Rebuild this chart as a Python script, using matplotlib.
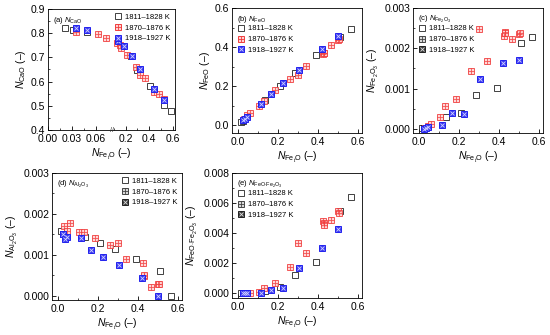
import matplotlib
matplotlib.use("Agg")
import matplotlib.pyplot as plt
import numpy as np
from matplotlib.lines import Line2D
from matplotlib.ticker import MultipleLocator, FixedLocator, FormatStrFormatter

# ---- data -------------------------------------------------------------
labels = ["1811–1828 K", "1870–1876 K", "1918–1927 K"]

# panel (a) has its own x positions (broken axis)
a_x_black = [0.021, 0.031, 0.049, 0.166, 0.243, 0.299, 0.407, 0.529, 0.583]
a_y_black = [0.820, 0.813, 0.804, 0.747, 0.704, 0.649, 0.580, 0.503, 0.480]
a_x_red = [0.035, 0.063, 0.073, 0.130, 0.155, 0.158, 0.209, 0.285, 0.322,
           0.365, 0.442, 0.487, 0.527]
a_y_red = [0.804, 0.796, 0.779, 0.758, 0.750, 0.737, 0.708, 0.660, 0.629,
           0.615, 0.556, 0.548, 0.530]
a_x_blue = [0.035, 0.049, 0.138, 0.189, 0.252, 0.322, 0.444, 0.527]
a_y_blue = [0.822, 0.815, 0.767, 0.747, 0.704, 0.653, 0.571, 0.523]

# N_FetO for panels (b)-(e)
x_black = [0.015, 0.025, 0.135, 0.21, 0.285, 0.39, 0.51, 0.565]
x_red = [0.03, 0.045, 0.06, 0.105, 0.13, 0.185, 0.26, 0.30, 0.34,
         0.425, 0.43, 0.43, 0.465, 0.50, 0.505]
x_blue = [0.025, 0.035, 0.045, 0.115, 0.165, 0.225, 0.305, 0.42, 0.50]

feo_black = [0.015, 0.022, 0.13, 0.20, 0.265, 0.36, 0.45, 0.49]
feo_red = [0.03, 0.05, 0.06, 0.10, 0.125, 0.178, 0.237, 0.255, 0.305,
           0.365, 0.37, 0.372, 0.41, 0.435, 0.44]
feo_blue = [0.025, 0.033, 0.04, 0.11, 0.158, 0.218, 0.283, 0.388, 0.455]

fe2o3_black = [0.00002, 0.00003, 0.0003, 0.0004, 0.00084, 0.00102, 0.00212, 0.00229]
fe2o3_red = [0.00003, 0.00008, 0.00013, 0.0003, 0.00058, 0.00075, 0.00143,
             0.00248, 0.00168, 0.00231, 0.0024, 0.00238, 0.00224, 0.00236, 0.00237]
fe2o3_blue = [0.0, 0.00003, 0.00005, 0.0001, 0.0004, 0.00038, 0.00124, 0.00164, 0.0017]

al2o3_black = [0.00159, 0.0015, 0.00145, 0.00129, 0.00115, 0.0009, 0.00061, 0.0]
al2o3_red = [0.0017, 0.00159, 0.00177, 0.00155, 0.00157, 0.00142, 0.00124,
             0.0013, 0.00089, 0.00081, 0.00048, 0.0005, 0.00021, 0.00029, 0.0003]
al2o3_blue = [0.0015, 0.0014, 0.00143, 0.00142, 0.00113, 0.00095, 0.00076, 0.00043, 0.0]

spinel_black = [0.0, 0.0, 0.00018, 0.00045, 0.00123, 0.00208, 0.00545, 0.0064]
spinel_red = [0.0, 0.0, 0.00002, 0.00013, 0.00036, 0.00067, 0.00179, 0.00337,
              0.00268, 0.0048, 0.00465, 0.00454, 0.00487, 0.0055, 0.00536]
spinel_blue = [0.0, 0.0, 0.0, 0.0, 0.00025, 0.00036, 0.00168, 0.00302, 0.00427]

# ---- style ------------------------------------------------------------
plt.rcParams["font.family"] = ["Liberation Sans", "DejaVu Sans"]
plt.rcParams["mathtext.fontset"] = "custom"
plt.rcParams["mathtext.rm"] = "Liberation Sans"
plt.rcParams["mathtext.it"] = "Liberation Sans:italic"
plt.rcParams["font.size"] = 7
plt.rcParams["axes.linewidth"] = 0.6

color_black = "#222222"
color_red = "#f03c3c"
color_blue = "#2222ee"

# each marker is a square with an inner symbol drawn on top
black_box = dict(marker="s", ms=4.0, mfc="none", mec=color_black, mew=0.6, ls="none")
red_box = dict(marker="s", ms=4.2, mfc="#ffd2d2", mec=color_red, mew=0.7, ls="none")
red_in = dict(marker="+", ms=4.2, mec=color_red, mew=0.6, ls="none")
blue_box = dict(marker="s", ms=4.2, mfc="#3a3af0", mec=color_blue, mew=0.7, ls="none")
blue_in = dict(marker="x", ms=3.0, mec="#d0d0ff", mew=0.6, ls="none")

gray_red_box = dict(red_box, mfc="#d8d8d8", mec="#444444")
gray_red_in = dict(red_in, mec="#444444")
gray_blue_box = dict(blue_box, mfc="#3a3a3a", mec="#222222")
gray_blue_in = dict(blue_in, mec="#dddddd")

xlabel = r"$N_{\mathrm{Fe}_t\mathrm{O}}$ (–)"

fig = plt.figure(figsize=(5.5, 3.35), dpi=100)


def add_axes(left, top, right, bottom):
    W, H = 550.0, 335.0
    return fig.add_axes([left / W, 1 - bottom / H, (right - left) / W, (bottom - top) / H])


def finish(ax, ylabel, title, yfmt):
    ax.tick_params(which="both", direction="in", top=False, right=False,
                   labelsize=7.5)
    ax.tick_params(axis="x", pad=3)
    ax.tick_params(axis="y", pad=2)
    ax.tick_params(which="major", length=3, width=0.6)
    ax.tick_params(which="minor", length=1.6, width=0.5)
    ax.yaxis.set_major_formatter(FormatStrFormatter(yfmt))
    ax.set_xlabel(xlabel, fontsize=7.5, labelpad=2)
    ax.set_ylabel(ylabel, fontsize=7.5, labelpad=2)
    ax.text(0.04, 0.95, title, transform=ax.transAxes, fontsize=5.5,
            ha="left", va="top")


def legend_handles(colored):
    if colored:
        return [Line2D([], [], **black_box),
                (Line2D([], [], **red_box), Line2D([], [], **red_in)),
                (Line2D([], [], **blue_box), Line2D([], [], **blue_in))]
    return [Line2D([], [], **black_box),
            (Line2D([], [], **gray_red_box), Line2D([], [], **gray_red_in)),
            (Line2D([], [], **gray_blue_box), Line2D([], [], **gray_blue_in))]


def plot_series(ax, xs, ys):
    ax.plot(xs[0], ys[0], **black_box)
    ax.plot(xs[1], ys[1], alpha=0.85, **red_box)
    ax.plot(xs[1], ys[1], alpha=0.85, **red_in)
    ax.plot(xs[2], ys[2], **blue_box)
    ax.plot(xs[2], ys[2], **blue_in)


# ---- (a) broken x axis ------------------------------------------------
def fwd(x):
    x = np.asarray(x, dtype=float)
    return np.where(x <= 0.08, x / 0.08 * 0.5, 0.5 + (x - 0.08) / 0.54 * 0.5)


def inv(y):
    y = np.asarray(y, dtype=float)
    return np.where(y <= 0.5, y * 0.16, 0.08 + (y - 0.5) * 1.08)


ax = add_axes(48, 9, 175, 130)
ax.set_xscale("function", functions=(fwd, inv))
plot_series(ax, [a_x_black, a_x_red, a_x_blue], [a_y_black, a_y_red, a_y_blue])
ax.set_xlim(0, 0.62)
ax.set_ylim(0.4, 0.9)
ax.xaxis.set_major_locator(FixedLocator([0.0, 0.03, 0.06, 0.2, 0.4, 0.6]))
ax.xaxis.set_minor_locator(FixedLocator([0.015, 0.045, 0.1, 0.3, 0.5]))
ax.set_xticklabels(["0.00", "0.03", "0.06", "0.2", "0.4", "0.6"])
ax.yaxis.set_major_locator(MultipleLocator(0.1))
ax.yaxis.set_minor_locator(MultipleLocator(0.05))
finish(ax, r"$N_{\mathrm{CaO}}$ (–)", r"(a) $N_{\mathrm{CaO}}$", "%.1f")
ax.text(0.08, 0.0, "//", transform=ax.get_xaxis_transform(), fontsize=5,
        ha="center", va="center", color="#333333")
ax.legend(legend_handles(True), labels, loc="upper right", frameon=False,
          fontsize=5.5, handletextpad=0.3, labelspacing=0.45,
          borderaxespad=0.2, handlelength=1.2)

# ---- (b) - (e) --------------------------------------------------------
panels = [
    (232, 8, 362, 133, [feo_black, feo_red, feo_blue], (-0.04, 0.6), 0.2, 0.1,
     r"$N_{\mathrm{FeO}}$ (–)", r"(b) $N_{\mathrm{FeO}}$", "%.1f", True, "upper left"),
    (413, 8, 543, 133, [fe2o3_black, fe2o3_red, fe2o3_blue], (-0.0001, 0.003), 0.001, 0.0005,
     r"$N_{\mathrm{Fe_2O_3}}$ (–)", r"(c) $N_{\mathrm{Fe_2O_3}}$", "%.3f", False, "upper left"),
    (52, 173, 182, 300, [al2o3_black, al2o3_red, al2o3_blue], (-0.0001, 0.003), 0.001, 0.0005,
     r"$N_{\mathrm{Al_2O_3}}$ (–)", r"(d) $N_{\mathrm{Al_2O_3}}$", "%.3f", False, "upper right"),
    (232, 173, 362, 298, [spinel_black, spinel_red, spinel_blue], (-0.0003, 0.008), 0.002, 0.001,
     r"$N_{\mathrm{FeO{\cdot}Fe_2O_3}}$ (–)", r"(e) $N_{\mathrm{FeO{\cdot}Fe_2O_3}}$", "%.3f",
     False, "upper left"),
]

for (l, t, r, b, ys, ylim, ymaj, ymin, ylab, title, yfmt, colored, loc) in panels:
    ax = add_axes(l, t, r, b)
    plot_series(ax, [x_black, x_red, x_blue], ys)
    ax.set_xlim(-0.03, 0.62)
    ax.set_ylim(*ylim)
    ax.xaxis.set_major_locator(MultipleLocator(0.2))
    ax.xaxis.set_minor_locator(MultipleLocator(0.1))
    ax.xaxis.set_major_formatter(FormatStrFormatter("%.1f"))
    ax.yaxis.set_major_locator(MultipleLocator(ymaj))
    ax.yaxis.set_minor_locator(MultipleLocator(ymin))
    finish(ax, ylab, title, yfmt)
    if loc == "upper left":
        ax.legend(legend_handles(colored), labels, loc="upper left", frameon=False,
                  fontsize=5.5, handletextpad=0.3, labelspacing=0.45,
                  borderaxespad=0.2, handlelength=1.2, bbox_to_anchor=(0.0, 0.9))
    else:
        ax.legend(legend_handles(colored), labels, loc="upper right", frameon=False,
                  fontsize=5.5, handletextpad=0.3, labelspacing=0.45,
                  borderaxespad=0.2, handlelength=1.2)

fig.savefig("out.png", dpi=100)
